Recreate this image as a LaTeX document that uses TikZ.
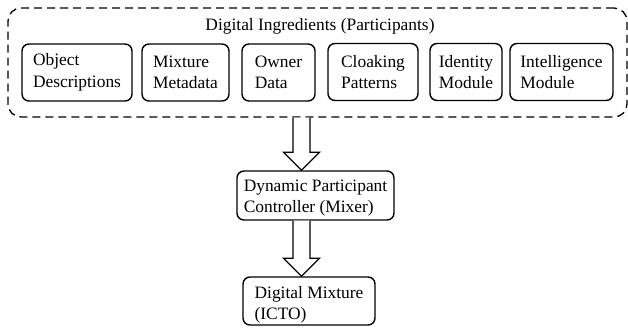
\documentclass[tikz,border=0pt]{standalone}
\usepackage{fontspec}
\setmainfont{Liberation Serif}
\usetikzlibrary{calc}
\tikzset{
  box/.style={draw=black, line width=1.4pt, rounded corners=7pt, inner sep=0pt, align=left,
              font=\fontsize{17.4}{21.5}\selectfont},
  outerbox/.style={draw=black, line width=1.3pt, dash pattern=on 8pt off 5pt, rounded corners=13pt, inner sep=0pt},
  arrowline/.style={draw=black, line width=1.3pt, fill=white, line join=miter},
  lbl/.style={inner sep=0pt, font=\fontsize{17.4}{21.5}\selectfont}
}
\newcommand\blockarr[2]{%
  \draw[arrowline] let \p1=(#1), \p2=(#2) in
    (\x1-8.5pt,\y1) -- (\x1-8.5pt,\y2+18pt) -- (\x1-18pt,\y2+18pt) -- (\x2,\y2)
    -- (\x1+18pt,\y2+18pt) -- (\x1+8.5pt,\y2+18pt) -- (\x1+8.5pt,\y1);}
\begin{document}
\begin{tikzpicture}[x=1pt,y=-1pt]
\useasboundingbox (0,0) rectangle (628,327);
\node[outerbox, minimum width=619pt, minimum height=109pt] (outer) at (317.5,62.5) {};
\node[lbl] (title) at (320,26) {Digital Ingredients (Participants)};
\node[box, minimum width=110pt, minimum height=57pt] (obj) at (77,72.5) {Object\\Descriptions};
\node[box, minimum width=87pt, minimum height=57pt] (mix) at (185.5,72.5) {Mixture\\Metadata};
\node[box, minimum width=73pt, minimum height=57pt] (own) at (278.5,72.5) {Owner\\Data};
\node[box, minimum width=90pt, minimum height=57pt] (clo) at (373,72) {Cloaking\\Patterns};
\node[box, minimum width=72pt, minimum height=57pt] (ide) at (466,72) {Identity\\Module};
\node[box, minimum width=103pt, minimum height=57pt] (int) at (561.5,72) {Intelligence\\Module};
\node[box, minimum width=157pt, minimum height=49pt] (dyn) at (315.5,195.5) {\rule{0pt}{17pt}Dynamic Participant\\Controller (Mixer)};
\node[box, minimum width=132pt, minimum height=48pt] (mixt) at (309,301) {\rule{0pt}{20pt}Digital Mixture\\(ICTO)};
\coordinate (ax) at (301.5,0);
\coordinate (a1s) at (outer.south -| ax);
\coordinate (a1e) at (dyn.north -| ax);
\coordinate (a2s) at (dyn.south -| ax);
\coordinate (a2e) at (mixt.north -| ax);
\blockarr{a1s}{a1e}
\blockarr{a2s}{a2e}
\end{tikzpicture}
\end{document}
